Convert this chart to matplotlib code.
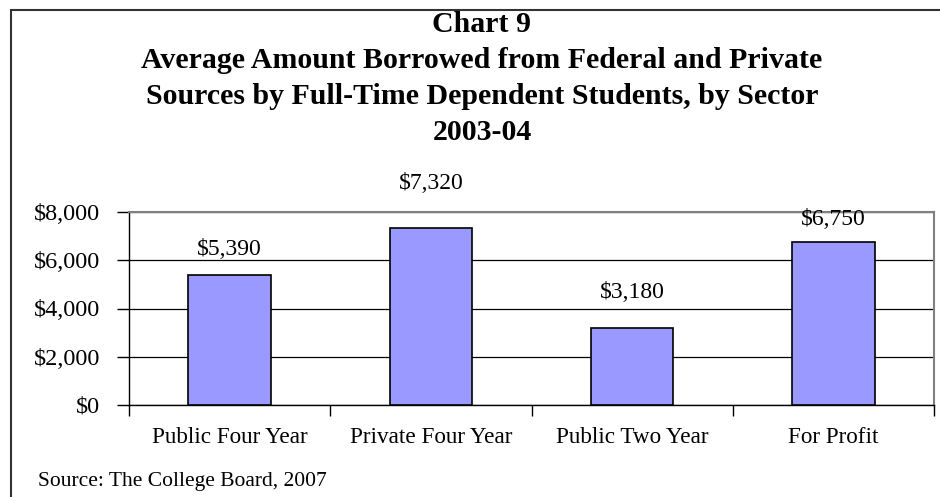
import matplotlib.pyplot as plt
from matplotlib.patches import Rectangle
from matplotlib.ticker import FuncFormatter

# datos
sectores = ['Public Four Year', 'Private Four Year', 'Public Two Year', 'For Profit']
montos = [5390, 7320, 3180, 6750]
ticks_y = [0, 2000, 4000, 6000, 8000]
# separacion de cada etiqueta sobre su barra (puntos), como en el original
sep_etiquetas = [18, 32, 26, 16]

plt.rcParams['font.family'] = ['Liberation Serif', 'DejaVu Serif']

fig = plt.figure(figsize=(9.4, 4.97), dpi=100)
ax = fig.add_axes([129 / 940, 1 - 405 / 497, (934 - 129) / 940, (405 - 212) / 497])

# marco exterior
fig.patches.append(Rectangle((11 / 940, -0.1), 1.0, 1 - 10 / 497 + 0.1,
                             transform=fig.transFigure, fill=False,
                             edgecolor='#333333', linewidth=1.5))

x = range(len(sectores))
ax.bar(x, montos, width=0.41, color='#9999FF', edgecolor='black',
       linewidth=1.2, zorder=3)
for xi, v, s in zip(x, montos, sep_etiquetas):
    ax.annotate('${:,.0f}'.format(v), (xi, v), xytext=(0, s),
                textcoords='offset points', ha='center', va='center', fontsize=17)

ax.set_ylim(0, 8000)
ax.set_xlim(-0.5, len(sectores) - 0.5)
ax.set_yticks(ticks_y)
ax.yaxis.set_major_formatter(FuncFormatter(lambda v, p: '${:,.0f}'.format(v)))
ax.tick_params(axis='y', direction='out', length=9, width=1, labelsize=17.5, pad=12)
ax.grid(axis='y', color='black', linewidth=0.9, zorder=0)

ax.set_xticks([i - 0.5 for i in range(len(sectores) + 1)])
ax.set_xticklabels([])
ax.set_xticks(list(x), minor=True)
ax.set_xticklabels(sectores, minor=True, fontsize=16.7)
ax.tick_params(axis='x', which='major', direction='out', length=8, width=1)
ax.tick_params(axis='x', which='minor', length=0, pad=16)

for lado in ['top', 'right']:
    ax.spines[lado].set_color('#808080')
    ax.spines[lado].set_linewidth(1.5)
for lado in ['left', 'bottom']:
    ax.spines[lado].set_color('black')
    ax.spines[lado].set_linewidth(1)

titulo = ['Chart 9',
          'Average Amount Borrowed from Federal and Private',
          'Sources by Full-Time Dependent Students, by Sector',
          '2003-04']
for i, linea in enumerate(titulo):
    fig.text(482 / 940, 1 - (32 + 36 * i) / 497, linea, ha='center', va='baseline',
             fontsize=21.5, fontweight='bold')

fig.text(38 / 940, 1 - 486 / 497, 'Source: The College Board, 2007',
         ha='left', va='baseline', fontsize=15.5)

fig.savefig('out.png', dpi=100)
